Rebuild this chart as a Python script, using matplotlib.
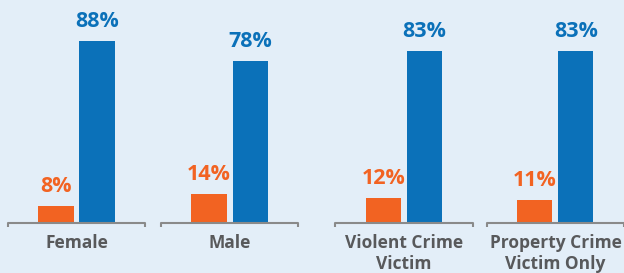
import numpy as np
import matplotlib.pyplot as plt

# data
categories = ["Female", "Male", "Violent Crime\nVictim", "Property Crime\nVictim Only"]
orange_vals = [8, 14, 12, 11]
blue_vals = [88, 78, 83, 83]
# group positions (extra gap between sex and victim type groups)
positions = np.array([0.0, 1.0, 2.14, 3.13])

orange = "#f26322"
blue = "#0b71b9"
bg = "#e3eef8"
gray = "#58595b"

plt.rcParams['font.family'] = ['Open Sans', 'DejaVu Sans']

fig = plt.figure(figsize=(6.24, 2.73), dpi=100, facecolor=bg)
ax = fig.add_axes([0, 0, 1, 1])
ax.set_facecolor(bg)

w = 0.229   # bar width
gap = 0.039
off = (w + gap) / 2

ax.bar(positions - off, orange_vals, width=w, color=orange)
ax.bar(positions + off, blue_vals, width=w, color=blue)

for x, v in zip(positions - off, orange_vals):
    ax.text(x, v + 6.8, f"{v}%", ha='center', va='baseline',
            color=orange, fontsize=15.5, fontweight='bold')
for x, v in zip(positions + off, blue_vals):
    ax.text(x, v + 6.8, f"{v}%", ha='center', va='baseline',
            color=blue, fontsize=15.5, fontweight='bold')

# bracket style baseline under each group
half = 0.448
for x, lab in zip(positions, categories):
    ax.plot([x - half, x - half, x + half, x + half], [-2, 0, 0, -2],
            color="#8a8a8a", lw=1.5, solid_capstyle='butt', clip_on=False)
    ax.text(x, -5.2, lab, ha='center', va='top', color=gray,
            fontsize=12.5, fontweight='bold', linespacing=1.25)

ax.set_xlim(-0.5, 3.578)
ax.set_ylim(-24.2, 107.7)
ax.axis('off')

fig.savefig("out.png", dpi=100, facecolor=bg)
